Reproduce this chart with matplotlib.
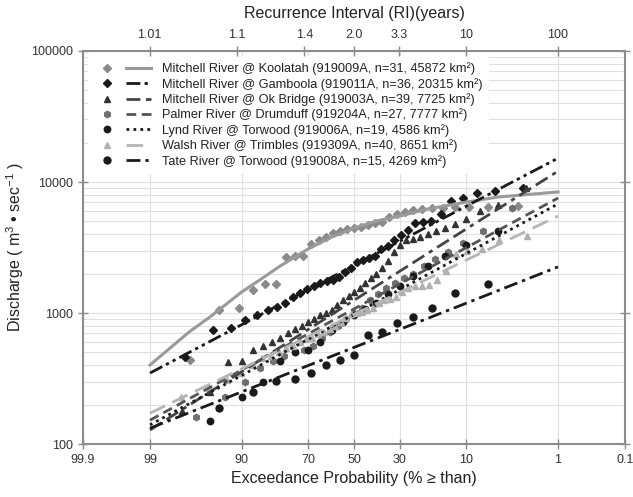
import numpy as np
import matplotlib
matplotlib.use('Agg')
import matplotlib.pyplot as plt
from matplotlib.ticker import LogLocator, NullLocator, NullFormatter
from matplotlib.legend_handler import HandlerTuple
from statistics import NormalDist

plt.rcParams['font.family'] = ['Liberation Sans', 'DejaVu Sans']
plt.rcParams['mathtext.fontset'] = 'custom'
plt.rcParams['mathtext.rm'] = 'Liberation Sans'
plt.rcParams['mathtext.it'] = 'Liberation Sans:italic'

'''
    Data read off the chart (exceedance % , discharge m3/s)
'''
# fitted curves
fit_p = [99, 90, 70, 50, 30, 10, 1]
fit_gamboola = [348, 814, 1510, 2310, 3540, 6550, 15200]
fit_okbridge = [128, 356, 747, 1250, 2090, 4390, 12100]
fit_palmer = [152, 367, 692, 1075, 1670, 3160, 7550]
fit_lynd = [140, 334, 630, 976, 1510, 2850, 6800]
fit_walsh = [172, 375, 661, 976, 1440, 2540, 5500]
fit_tate = [132, 250, 397, 546, 751, 1190, 2250]
kool_fit_p = [99, 97, 95, 90, 85, 80, 70, 60, 50, 40, 30, 20, 10, 5, 1]
kool_fit = [401, 716, 930, 1446, 1860, 2285, 3080, 3800, 4450, 5035, 5500, 6220, 7030, 7680, 8400]

# observed annual maxima
kool_p = [96.9, 93.8, 90.6, 87.5, 84.4, 81.3, 78.1, 75.0, 71.9, 68.8, 65.6, 62.5, 59.4, 56.3, 53.1, 50.0,
          46.9, 43.8, 40.6, 37.5, 34.4, 31.3, 28.1, 25.0, 21.9, 18.8, 15.6, 12.5, 9.4, 6.3, 3.1]
kool_q = [440, 1050, 1090, 1500, 1670, 1670, 2680, 2720, 2720, 3360, 3600, 3800, 4080, 4230, 4380, 4460,
          4530, 4690, 4860, 4950, 5400, 5700, 5900, 6100, 6200, 6300, 6350, 6400, 6450, 6500, 6600]

gamb_p = [97.3, 94.6, 91.9, 89.2, 86.5, 83.8, 81.1, 78.4, 75.7, 73.0, 70.3, 67.6, 64.9, 62.2, 59.5, 56.8,
          54.1, 51.4, 48.6, 45.9, 43.2, 40.5, 37.8, 35.1, 32.4, 29.7, 27.0, 24.3, 21.6, 18.9, 16.2, 13.5,
          10.8, 8.1, 5.4, 2.7]
gamb_q = [460, 740, 770, 880, 960, 1050, 1110, 1190, 1320, 1420, 1520, 1600, 1690, 1750, 1800, 1880,
          2050, 2200, 2450, 2540, 2630, 2720, 3080, 3250, 3600, 3930, 4300, 4860, 4950, 5040, 5700, 7100,
          7500, 8300, 8500, 9000]

okb_p = [97.5, 95, 92.5, 90, 87.5, 85, 82.5, 80, 77.5, 75, 72.5, 70, 67.5, 65, 62.5, 60, 57.5, 55, 52.5,
         50, 47.5, 45, 42.5, 40, 37.5, 35, 32.5, 30, 27.5, 25, 22.5, 20, 17.5, 15, 12.5, 10, 7.5, 5, 2.5]
okb_q = [180, 250, 420, 430, 520, 560, 600, 650, 700, 760, 800, 850, 900, 960, 1000, 1050, 1150, 1250, 1350,
         1450, 1550, 1700, 1850, 2000, 2200, 2500, 2900, 3300, 3600, 3700, 3800, 4000, 4200, 4450, 4800,
         5200, 6000, 6700, 9000]

palm_p = [96.4, 92.9, 89.3, 85.7, 82.1, 78.6, 75.0, 71.4, 67.9, 64.3, 60.7, 57.1, 53.6, 50.0, 46.4, 42.9,
          39.3, 35.7, 32.1, 28.6, 25.0, 21.4, 17.9, 14.3, 10.7, 7.1, 3.6]
palm_q = [160, 230, 300, 380, 430, 470, 500, 520, 560, 640, 720, 800, 900, 1000, 1100, 1250, 1400, 1550,
          1700, 1850, 2000, 2300, 2600, 2900, 3400, 4200, 6300]

lynd_p = [95, 90, 85, 80, 75, 70, 65, 60, 55, 50, 45, 40, 35, 30, 25, 20, 15, 10, 5]
lynd_q = [150, 230, 300, 430, 500, 520, 600, 740, 850, 960, 1080, 1200, 1400, 1600, 1900, 2300, 2700,
          3300, 4200]

wals_p = [97.6, 95.1, 92.7, 90.2, 87.8, 85.4, 82.9, 80.5, 78.0, 75.6, 73.2, 70.7, 68.3, 65.9, 63.4, 61.0,
          58.5, 56.1, 53.7, 51.2, 48.8, 46.3, 43.9, 41.5, 39.0, 36.6, 34.1, 31.7, 29.3, 26.8, 24.4, 22.0,
          19.5, 17.1, 14.6, 12.2, 9.8, 7.3, 4.9, 2.4]
wals_q = [228, 270, 310, 350, 400, 450, 470, 500, 540, 560, 600, 630, 650, 690, 720, 760, 800, 860, 920,
          980, 1000, 1020, 1050, 1100, 1200, 1250, 1280, 1320, 1450, 1550, 1600, 1620, 1650, 1800, 2100,
          2800, 2950, 3100, 3600, 3900]

tate_p = [93.8, 87.5, 81.3, 75.0, 68.8, 62.5, 56.3, 50.0, 43.8, 37.5, 31.3, 25.0, 18.8, 12.5, 6.3]
tate_q = [190, 250, 305, 315, 350, 400, 440, 480, 680, 720, 840, 930, 1100, 1420, 1660]

labels = ['Mitchell River @ Koolatah (919009A, n=31, 45872 km\u00b2)',
          'Mitchell River @ Gamboola (919011A, n=36, 20315 km\u00b2)',
          'Mitchell River @ Ok Bridge (919003A, n=39, 7725 km\u00b2)',
          'Palmer River @ Drumduff (919204A, n=27, 7777 km\u00b2)',
          'Lynd River @ Torwood (919006A, n=19, 4586 km\u00b2)',
          'Walsh River @ Trimbles (919309A, n=40, 8651 km\u00b2)',
          'Tate River @ Torwood (919008A, n=15, 4269 km\u00b2)']

x_ticks = [99.9, 99, 90, 70, 50, 30, 10, 1, 0.1]
x_ticklabels = ['99.9', '99', '90', '70', '50', '30', '10', '1', '0.1']
ri_ticks = [1.01, 1.1, 1.4, 2.0, 3.3, 10, 100]
ri_ticklabels = ['1.01', '1.1', '1.4', '2.0', '3.3', '10', '100']

'''
    Probability scale (normal probability paper)
'''
nd = NormalDist()
_ppf = np.vectorize(nd.inv_cdf, otypes=[float])
_cdf = np.vectorize(nd.cdf, otypes=[float])

def fwd(p):
    p = np.clip(np.asarray(p, dtype=float), 1e-6, 100 - 1e-6)
    return _ppf(p / 100.0)

def inv(z):
    return 100.0 * _cdf(np.asarray(z, dtype=float))

'''
    Plot
'''
series = [
    dict(p=kool_p, q=kool_q, fp=kool_fit_p, fq=kool_fit, m='D', ms=4.2, mc='#8a8a8a',
         lc='#9a9a9a', ls='-', lw=2.2),
    dict(p=gamb_p, q=gamb_q, fp=fit_p, fq=fit_gamboola, m='D', ms=4.2, mc='#1a1a1a',
         lc='#1a1a1a', ls=(0, (5, 1.5, 1.2, 1.5, 1.2, 1.5)), lw=2.0),
    dict(p=okb_p, q=okb_q, fp=fit_p, fq=fit_okbridge, m='^', ms=4.6, mc='#333333',
         lc='#444444', ls=(0, (5, 2, 5, 2, 1.5, 2)), lw=2.0),
    dict(p=palm_p, q=palm_q, fp=fit_p, fq=fit_palmer, m='h', ms=4.6, mc='#707070',
         lc='#555555', ls=(0, (3.5, 2)), lw=2.0),
    dict(p=lynd_p, q=lynd_q, fp=fit_p, fq=fit_lynd, m='o', ms=4.6, mc='#1a1a1a',
         lc='#1a1a1a', ls=(0, (1, 1.5)), lw=2.0),
    dict(p=wals_p, q=wals_q, fp=fit_p, fq=fit_walsh, m='^', ms=4.6, mc='#b0b0b0',
         lc='#b5b5b5', ls=(0, (6, 3)), lw=2.0),
    dict(p=tate_p, q=tate_q, fp=fit_p, fq=fit_tate, m='o', ms=5.0, mc='#1a1a1a',
         lc='#1a1a1a', ls=(0, (5, 1.8, 1.2, 1.8)), lw=2.0),
]

fig = plt.figure(figsize=(6.33, 4.97), dpi=100)
ax = fig.add_axes([0.1311, 0.1066, 0.8563, 0.7908])
ax.set_xscale('function', functions=(fwd, inv))
ax.set_yscale('log')

handles = []
for s in series:
    pts, = ax.plot(s['p'], s['q'], linestyle='none', marker=s['m'], ms=s['ms'],
                   mfc=s['mc'], mec=s['mc'], zorder=3)
    ln, = ax.plot(s['fp'], s['fq'], color=s['lc'], linestyle=s['ls'], lw=s['lw'], zorder=4)
    handles.append((pts, ln))

ax.set_xlim(99.9, 0.1)
ax.set_ylim(100, 100000)
ax.set_xticks(x_ticks)
ax.set_xticklabels(x_ticklabels)
ax.xaxis.set_minor_locator(NullLocator())
ax.set_yticks([100, 1000, 10000, 100000])
ax.set_yticklabels(['100', '1000', '10000', '100000'])
ax.yaxis.set_minor_locator(LogLocator(base=10, subs=np.arange(2, 10)))
ax.yaxis.set_minor_formatter(NullFormatter())

ax.grid(axis='x', which='major', color='#e0e0e0', lw=0.8)
ax.grid(axis='y', which='both', color='#e0e0e0', lw=0.8)
ax.set_axisbelow(True)

for sp in ax.spines.values():
    sp.set_color('#8c8c8c')
    sp.set_linewidth(1.5)
ax.tick_params(which='major', direction='inout', length=7, width=1, color='#8c8c8c',
               labelsize=9, labelcolor='#333333', right=True, labelright=False)
ax.tick_params(which='minor', length=0)

ax.set_xlabel('Exceedance Probability (% \u2265 than)', fontsize=11.5, color='#222222', labelpad=4)
ax.set_ylabel('Discharge ( m$^3$ \u2022 sec$^{-1}$ )', fontsize=11.5, color='#222222', labelpad=4)

# recurrence interval axis on top
ax2 = ax.twiny()
ax2.set_xscale('function', functions=(fwd, inv))
ax2.set_xlim(ax.get_xlim())
ax2.set_xticks([100.0 / r for r in ri_ticks])
ax2.set_xticklabels(ri_ticklabels)
ax2.xaxis.set_minor_locator(NullLocator())
ax2.tick_params(direction='inout', length=7, width=1, color='#8c8c8c',
                labelsize=9, labelcolor='#333333')
for sp in ax2.spines.values():
    sp.set_visible(False)
ax2.set_xlabel('Recurrence Interval (RI)(years)', fontsize=11.5, color='#222222', labelpad=8)

leg = ax.legend(handles, labels, loc='upper left', bbox_to_anchor=(0.0, 1.0),
                handler_map={tuple: HandlerTuple(ndivide=None, pad=0.6)},
                handlelength=4.4, handletextpad=0.9, labelspacing=0.2,
                fontsize=9.2, frameon=True, framealpha=1, facecolor='white',
                edgecolor='none', borderpad=0.5, borderaxespad=0.4)
for t in leg.get_texts():
    t.set_color('#222222')

fig.savefig('out.png', dpi=100)
